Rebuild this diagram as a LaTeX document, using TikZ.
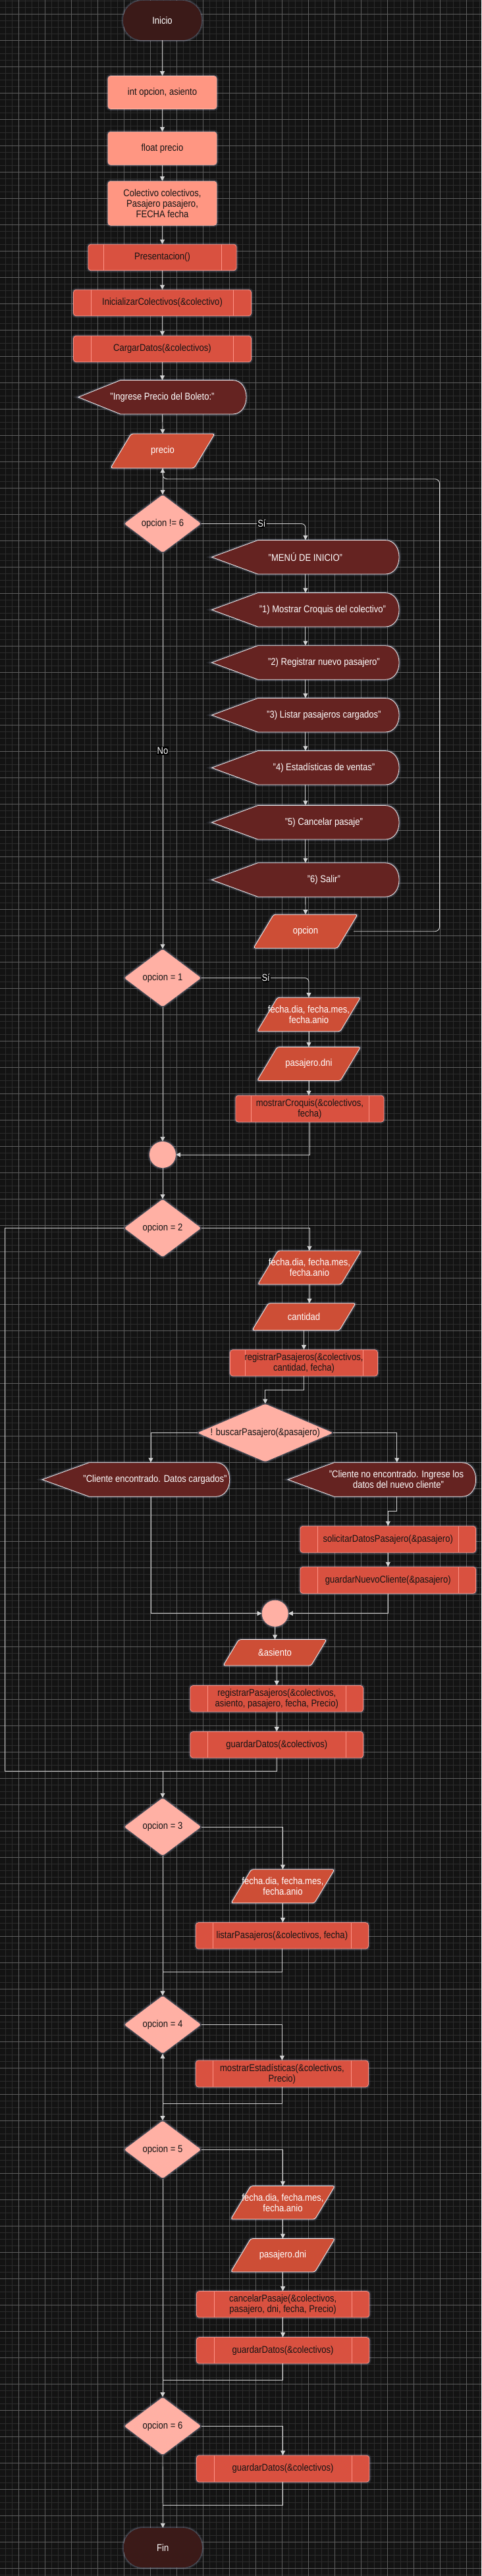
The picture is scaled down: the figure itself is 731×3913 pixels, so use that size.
\documentclass[tikz,border=0pt]{standalone}
\usepackage{fontspec}
\setmainfont{Liberation Sans}[FakeStretch=0.87]
\usetikzlibrary{shapes.geometric,arrows.meta,calc}
\definecolor{bgc}{HTML}{131313}
\definecolor{gridminor}{HTML}{2C2C2C}
\definecolor{gridmajor}{HTML}{5E5E5E}
\definecolor{termfill}{HTML}{3B1A18}
\definecolor{declfill}{HTML}{FF9682}
\definecolor{decledge}{HTML}{FFB8A8}
\definecolor{subfill}{HTML}{D95140}
\definecolor{subedge}{HTML}{FF9385}
\definecolor{dispfill}{HTML}{652321}
\definecolor{parfill}{HTML}{CD4E36}
\definecolor{edgew}{HTML}{F2F2F2}
\definecolor{diafill}{HTML}{FFB0A4}
\definecolor{linec}{HTML}{D4D4D4}
\definecolor{glowc}{HTML}{B4BCE0}
\definecolor{darktext}{HTML}{141414}
\tikzset{
 glowfx/.style={preaction={draw=glowc, line width=6pt, opacity=0.10}, preaction={draw=glowc, line width=3pt, opacity=0.22}},
 basefont/.style={font=\fontsize{15}{16}\selectfont, inner sep=1pt},
 termbox/.style={basefont, glowfx, rectangle, rounded corners=29pt, fill=termfill, text=white, minimum width=119pt, minimum height=60pt},
 declbox/.style={basefont, align=center, glowfx, rectangle, rounded corners=4pt, fill=declfill, draw=decledge, line width=0.6pt, text=darktext, minimum width=165pt, minimum height=50pt},
 subbox/.style={basefont, align=center, glowfx, rectangle, rounded corners=4pt, fill=subfill, draw=subedge, line width=0.8pt, text=darktext, minimum height=39.5pt,
   path picture={\draw[subedge, line width=0.8pt] ([xshift=#1]path picture bounding box.north west) -- ([xshift=#1]path picture bounding box.south west) ([xshift=-#1]path picture bounding box.north east) -- ([xshift=-#1]path picture bounding box.south east);}},
 subbox/.default=25pt,
 ioshape/.style={glowfx, fill=parfill, draw=edgew, line width=0.8pt, rounded corners=3pt},
 ionode/.style={basefont, align=center, inner sep=0pt, text=white},
 diabox/.style={basefont, glowfx, diamond, inner sep=0pt, rounded corners=3pt, fill=diafill, text=darktext, minimum width=117pt, minimum height=88pt},
 circbox/.style={glowfx, circle, fill=diafill, minimum size=40pt, inner sep=0pt},
 dispnode/.style={basefont, align=center, text=white, minimum height=51.5pt},
 dispshape/.style={glowfx, fill=dispfill, draw=edgew, line width=0.8pt},
 conn/.style={draw=linec, line width=0.9pt, -{Triangle[length=7pt,width=7pt]}},
 lineonly/.style={draw=linec, line width=0.9pt},
 yesno/.style={font=\fontsize{15}{16}\selectfont, fill=black, text=white, inner sep=1pt},
}
% display shape: name, cx, cy, w, point offset, text
\newcommand{\dispat}[6]{%
 \path[dispshape] (#2-#4/2,#3) -- (#2-#4/2+#5,#3-25.75) -- (#2+#4/2-21,#3-25.75) .. controls (#2+#4/2+7,#3-25.75) and (#2+#4/2+7,#3+25.75) .. (#2+#4/2-21,#3+25.75) -- (#2-#4/2+#5,#3+25.75) -- cycle;
 \node[dispnode, minimum width=#4pt] (#1) at (#2,#3) {#6};
}
% input/output parallelogram: name, cx, cy, w, h, text
\newcommand{\ioat}[6]{%
 \path[ioshape] (#2-#4/2,#3+#5/2) -- (#2-#4/2+0.6*#5,#3-#5/2) -- (#2+#4/2,#3-#5/2) -- (#2+#4/2-0.6*#5,#3+#5/2) -- cycle;
 \node[ionode, minimum width=#4pt, minimum height=#5pt] (#1) at (#2,#3) {#6};
}
\begin{document}
\begin{tikzpicture}[x=1pt,y=-1pt]
\useasboundingbox (0,0) rectangle (731,3913);
\fill[bgc] (0,0) rectangle (731,3913);
\foreach \x in {8,18,...,728} \draw[gridminor, line width=0.6pt] (\x,0) -- (\x,3913);
\foreach \y in {1,11,...,3911} \draw[gridminor, line width=0.6pt] (0,\y) -- (731,\y);
\foreach \x in {28,68,...,708} \draw[gridmajor, line width=0.8pt] (\x,0) -- (\x,3913);
\foreach \y in {21,61,...,3901} \draw[gridmajor, line width=0.8pt] (0,\y) -- (731,\y);

% nodes
\node[termbox] (ini) at (246.5,31) {Inicio};
\node[declbox] (v1) at (246.5,140.5) {int opcion, asiento};
\node[declbox] (v2) at (246.5,225.3) {float precio};
\node[declbox, minimum height=67pt] (v3) at (246.5,308.8) {Colectivo colectivos,\\Pasajero pasajero,\\FECHA fecha};
\node[subbox=23pt, minimum width=225pt] (pres) at (246.5,391) {Presentacion()};
\node[subbox=27pt, minimum width=270pt] (inic) at (246.5,460) {InicializarColectivos(\&colectivo)};
\node[subbox=27pt, minimum width=270pt] (carg) at (246.5,530) {CargarDatos(\&colectivos)};
\dispat{ingr}{246.5}{603.3}{255}{64}{"Ingrese Precio del Boleto:"}
\ioat{precio}{247}{685}{158}{52}{precio}
\node[diabox] (d1) at (247,795.5) {opcion != 6};
\dispat{m0}{463.9}{846.3}{284.3}{70}{"MENÚ DE INICIO"}
\dispat{m1}{463.9}{926.3}{284.3}{70}{\hspace*{52pt}"1) Mostrar Croquis del colectivo"}
\dispat{m2}{463.9}{1006.5}{284.3}{70}{\hspace*{56pt}"2) Registrar nuevo pasajero"}
\dispat{m3}{463.9}{1086.3}{284.3}{70}{\hspace*{56pt}"3) Listar pasajeros cargados"}
\dispat{m4}{463.9}{1166.3}{284.3}{70}{\hspace*{56pt}"4) Estadísticas de ventas"}
\dispat{m5}{463.9}{1249.3}{284.3}{70}{\hspace*{56pt}"5) Cancelar pasaje"}
\dispat{m6}{463.9}{1336.5}{284.3}{70}{\hspace*{56pt}"6) Salir"}
\ioat{op}{464}{1414.7}{158}{51}{opcion}
\node[diabox] (d2) at (247,1485.5) {opcion = 1};
\ioat{f1}{469}{1541}{157}{51.5}{fecha.dia, fecha.mes,\\fecha.anio}
\ioat{dni1}{469}{1616}{157}{51}{pasajero.dni}
\node[subbox=23pt, minimum width=225pt, minimum height=40pt] (croq) at (470.4,1684.2) {mostrarCroquis(\&colectivos,\\fecha)};
\node[circbox] (c1) at (247,1754) {};
\node[diabox] (d3) at (247,1865.5) {opcion = 2};
\ioat{f2}{470}{1925.5}{157}{51}{fecha.dia, fecha.mes,\\fecha.anio}
\ioat{cant}{461.5}{2000.3}{157}{41}{cantidad}
\node[subbox=22.5pt, minimum width=224pt] (reg1) at (461.5,2070.3) {registrarPasajeros(\&colectivos,\\cantidad, fecha)};
\node[diabox, minimum width=206pt, minimum height=88pt, aspect=2.34] (d4) at (402.8,2176.5) {! buscarPasajero(\&pasajero)};
\dispat{ce}{206.5}{2247.5}{284.4}{71}{\hspace*{58pt}"Cliente encontrado. Datos cargados"}
\dispat{cn}{580}{2247.5}{285.3}{70}{\hspace*{44pt}"Cliente no encontrado. Ingrese los\\\hspace*{50pt}datos del nuevo cliente"}
\node[subbox=26.5pt, minimum width=266.6pt, minimum height=40pt] (sol) at (589.3,2338.3) {solicitarDatosPasajero(\&pasajero)};
\node[subbox=26.5pt, minimum width=266.6pt, minimum height=40pt] (gnc) at (589.3,2400.3) {guardarNuevoCliente(\&pasajero)};
\node[circbox] (c2) at (417.7,2450.8) {};
\ioat{asi}{417.5}{2510.3}{157}{39.5}{\&asiento}
\node[subbox=26.5pt, minimum width=262.5pt] (reg2) at (420.3,2580.3) {registrarPasajeros(\&colectivos,\\asiento, pasajero, fecha, Precio)};
\node[subbox=26.5pt, minimum width=262.5pt] (gd1) at (420.3,2650.3) {guardarDatos(\&colectivos)};
\node[diabox] (d5) at (247,2775) {opcion = 3};
\ioat{f3}{429.5}{2865.3}{157}{51}{fecha.dia, fecha.mes,\\fecha.anio}
\node[subbox=26pt, minimum width=262pt] (lst) at (428.4,2940.3) {listarPasajeros(\&colectivos, fecha)};
\node[diabox] (d6) at (247,3075.5) {opcion = 4};
\node[subbox=26pt, minimum width=262pt, minimum height=40pt] (est) at (428.4,3150) {mostrarEstadísticas(\&colectivos,\\Precio)};
\node[diabox] (d7) at (247,3265.3) {opcion = 5};
\ioat{f4}{429.5}{3345.8}{158}{50.5}{fecha.dia, fecha.mes,\\fecha.anio}
\ioat{dni2}{429.5}{3425.8}{158}{50.5}{pasajero.dni}
\node[subbox=26.5pt, minimum width=262.4pt] (can) at (429.6,3500.3) {cancelarPasaje(\&colectivos,\\pasajero, dni, fecha, Precio)};
\node[subbox=26.5pt, minimum width=262.4pt] (gd2) at (429.6,3570.3) {guardarDatos(\&colectivos)};
\node[diabox] (d8) at (247,3685.3) {opcion = 6};
\node[subbox=26.5pt, minimum width=262.4pt, minimum height=40pt] (gd3) at (429.6,3750) {guardarDatos(\&colectivos)};
\node[termbox] (fin) at (247.3,3870) {Fin};

% junction coordinates
\coordinate (j0) at (667.6,727.7);
\coordinate (j1) at (7.5,2690);
\coordinate (j1m) at (247,2690);
\coordinate (j2) at (247,2995);
\coordinate (j3) at (247,3195.3);
\coordinate (j4) at (247,3615);
\coordinate (j5) at (247,3805);

% connectors
\draw[conn] (ini.south) -- (v1.north);
\draw[conn] (v1.south) -- (v2.north);
\draw[conn] (v2.south) -- (v3.north);
\draw[conn] (v3.south) -- (pres.north);
\draw[conn] (pres.south) -- (inic.north);
\draw[conn] (inic.south) -- (carg.north);
\draw[conn] (carg.south) -- (ingr.north);
\draw[conn] (ingr.south) -- (precio.north);
\draw[conn, rounded corners=7pt] ([xshift=-6pt]op.east) -| (j0) -| (precio.south);
\draw[conn] (precio.south) -- (d1.north);
\draw[conn, rounded corners=6pt] (d1.east) -| node[yesno, pos=0.29]{Sí} (m0.north);
\draw[conn] (m0.south) -- (m1.north);
\draw[conn] (m1.south) -- (m2.north);
\draw[conn] (m2.south) -- (m3.north);
\draw[conn] (m3.south) -- (m4.north);
\draw[conn] (m4.south) -- (m5.north);
\draw[conn] (m5.south) -- (m6.north);
\draw[conn] (m6.south) -- (op.north);
\draw[conn] (d1.south) -- node[yesno]{No} (d2.north);
\draw[conn, rounded corners=6pt] (d2.east) -| node[yesno, pos=0.3]{Sí} (f1.north);
\draw[conn] (f1.south) -- (dni1.north);
\draw[conn] (dni1.south) -- (dni1.south |- croq.north);
\draw[conn] (d2.south) -- (c1.north);
\draw[conn] (croq.south) |- (c1.east);
\draw[conn] (c1.south) -- (d3.north);
\draw[conn] (d3.east) -| (f2.north);
\draw[conn] (f2.south) -- (f2.south |- cant.north);
\draw[conn] (cant.south) -- (reg1.north);
\draw[conn] (reg1.south) -- ++(0,21) -| (d4.north);
\draw[conn] (d4.west) -| ([xshift=22.5pt]ce.north);
\draw[conn] (d4.east) -| ([xshift=22.8pt]cn.north);
\draw[conn] ([xshift=22.5pt]ce.south) |- (c2.west);
\draw[conn] ([xshift=22.8pt]cn.south) -- ++(0,21.7) -| (sol.north);
\draw[conn] (sol.south) -- (gnc.north);
\draw[conn] (gnc.south) |- (c2.east);
\draw[conn] (c2.south) -- (asi.north);
\draw[conn] (asi.south -| reg2.north) -- (reg2.north);
\draw[conn] (reg2.south) -- (gd1.north);
\draw[lineonly] (d3.west) -| (j1) -| (gd1.south);
\draw[conn] (j1m) -- (d5.north);
\draw[conn] (d5.east) -| (f3.north);
\draw[conn] (f3.south) -- (f3.south |- lst.north);
\draw[lineonly] (lst.south) |- (j2);
\draw[conn] (d5.south) -- (d6.north);
\draw[conn] (d6.east) -| (est.north);
\draw[conn] (est.south) |- (j3) -- (d6.south);
\draw[conn] (d6.south) -- (d7.north);
\draw[conn] (d7.east) -| (f4.north);
\draw[conn] (f4.south) -- (dni2.north);
\draw[conn] (dni2.south) -- (can.north);
\draw[conn] (can.south) -- (gd2.north);
\draw[lineonly] (gd2.south) |- (j4);
\draw[conn] (d7.south) -- (d8.north);
\draw[conn] (d8.east) -| (gd3.north);
\draw[lineonly] (gd3.south) |- (j5);
\draw[conn] (d8.south) -- (fin.north);
\end{tikzpicture}
\end{document}
